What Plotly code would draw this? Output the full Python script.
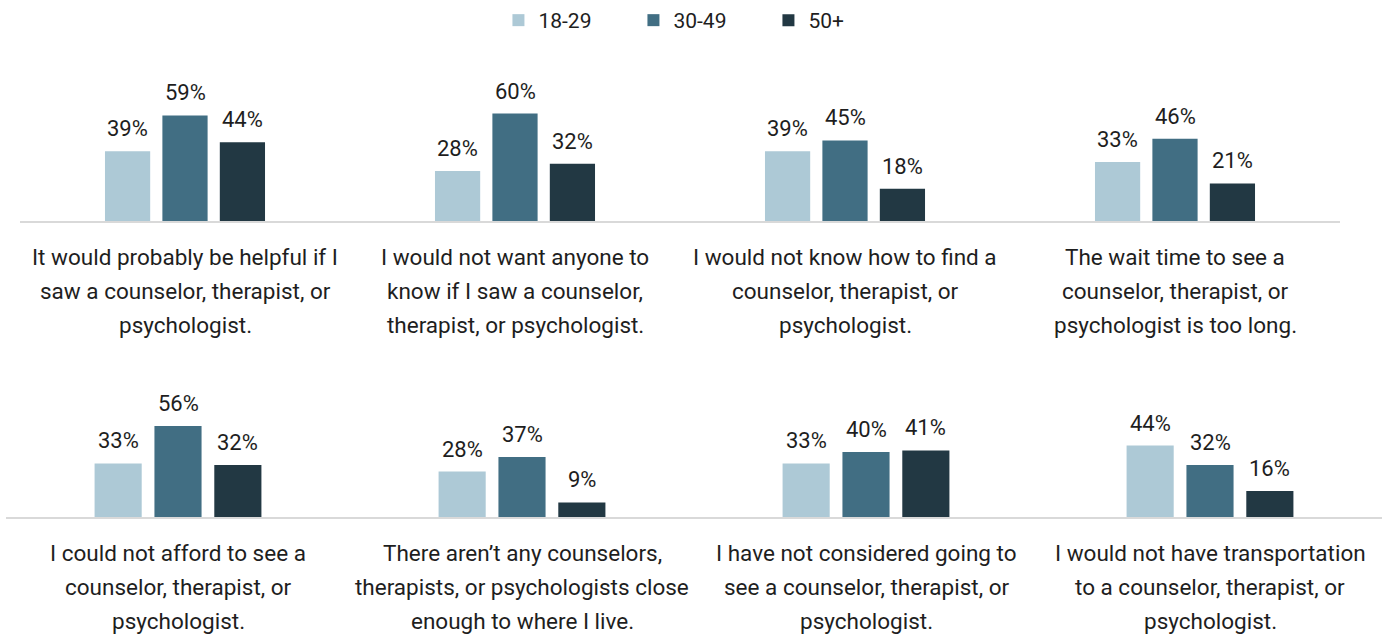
import plotly.graph_objects as go

# Survey statements, split onto the lines they are printed on
statements_top = [
    ["It would probably be helpful if I", "saw a counselor, therapist, or", "psychologist."],
    ["I would not want anyone to", "know if I saw a counselor,", "therapist, or psychologist."],
    ["I would not know how to find a", "counselor, therapist, or", "psychologist."],
    ["The wait time to see a", "counselor, therapist, or", "psychologist is too long."],
]
statements_bottom = [
    ["I could not afford to see a", "counselor, therapist, or", "psychologist."],
    ["There aren\u2019t any counselors,", "therapists, or psychologists close", "enough to where I live."],
    ["I have not considered going to", "see a counselor, therapist, or", "psychologist."],
    ["I would not have transportation", "to a counselor, therapist, or", "psychologist."],
]

age_groups = ["18-29", "30-49", "50+"]

# Percent agreeing, by age group
top_18_29 = [39, 28, 39, 33]
top_30_49 = [59, 60, 45, 46]
top_50_plus = [44, 32, 18, 21]

bottom_18_29 = [33, 28, 33, 44]
bottom_30_49 = [56, 37, 40, 32]
bottom_50_plus = [32, 9, 41, 16]

colors = ["#ADC9D6", "#416E83", "#223843"]
FONT = "Roboto"
TEXT_COLOR = "#1e1e1e"

BAR_W = 0.137
PITCH = 0.174

W, H = 1388, 635

fig = go.Figure()
annotations = []

rows = [
    dict(xaxis="x", yaxis="y", series=[top_18_29, top_30_49, top_50_plus],
         statements=statements_top, label_y=[257, 291, 325]),
    dict(xaxis="x2", yaxis="y2", series=[bottom_18_29, bottom_30_49, bottom_50_plus],
         statements=statements_bottom, label_y=[553, 587, 621]),
]

for r, row in enumerate(rows):
    xs = list(range(len(row["statements"])))
    for i, (name, vals) in enumerate(zip(age_groups, row["series"])):
        off = (i - 1) * PITCH - BAR_W / 2
        fig.add_trace(go.Bar(
            x=xs, y=vals, name=name, width=BAR_W, offset=off,
            marker=dict(color=colors[i], line=dict(width=0)),
            xaxis=row["xaxis"], yaxis=row["yaxis"],
            showlegend=(r == 0), legendgroup=name,
            hoverinfo="skip",
        ))
        # value labels above each bar
        for x, v in zip(xs, vals):
            annotations.append(dict(
                x=x + off + BAR_W / 2, y=v, xref=row["xaxis"], yref=row["yaxis"],
                text=f"{v}%", showarrow=False, yanchor="bottom", yshift=8,
                font=dict(family=FONT, size=22, color=TEXT_COLOR),
            ))
    # statement text under each group
    for x, lines in zip(xs, row["statements"]):
        for ly, line in zip(row["label_y"], lines):
            annotations.append(dict(
                x=x, y=1 - ly / H, xref=row["xaxis"], yref="paper",
                text=line, showarrow=False, yanchor="middle", xanchor="center",
                font=dict(family=FONT, size=22.5, color=TEXT_COLOR),
            ))

axis_common = dict(
    showgrid=False, zeroline=False, showticklabels=False, ticks="",
    showline=True, linecolor="#D9D9D9", linewidth=2, fixedrange=True,
    range=[-0.5, 3.5],
)
yaxis_common = dict(
    showgrid=False, zeroline=False, showticklabels=False, ticks="",
    showline=False, range=[0, 70], fixedrange=True,
)

fig.update_layout(
    width=W, height=H,
    margin=dict(l=0, r=0, t=0, b=0),
    paper_bgcolor="white", plot_bgcolor="white",
    barmode="overlay",
    font=dict(family=FONT, color=TEXT_COLOR),
    xaxis=dict(domain=[20 / W, 1340 / W], anchor="y", **axis_common),
    yaxis=dict(domain=[1 - 221 / H, 1 - (221 - 70 * 1.79) / H], anchor="x", **yaxis_common),
    xaxis2=dict(domain=[6 / W, 1382 / W], anchor="y2", **axis_common),
    yaxis2=dict(domain=[1 - 517 / H, 1 - (517 - 70 * 1.625) / H], anchor="x2", **yaxis_common),
    legend=dict(
        orientation="h", x=0.505, xanchor="center", y=1, yanchor="top",
        font=dict(family=FONT, size=21, color=TEXT_COLOR),
        entrywidth=90, entrywidthmode="pixels",
        itemwidth=30, traceorder="normal", bgcolor="rgba(0,0,0,0)",
    ),
    annotations=annotations,
)

fig.write_html("out.html")
